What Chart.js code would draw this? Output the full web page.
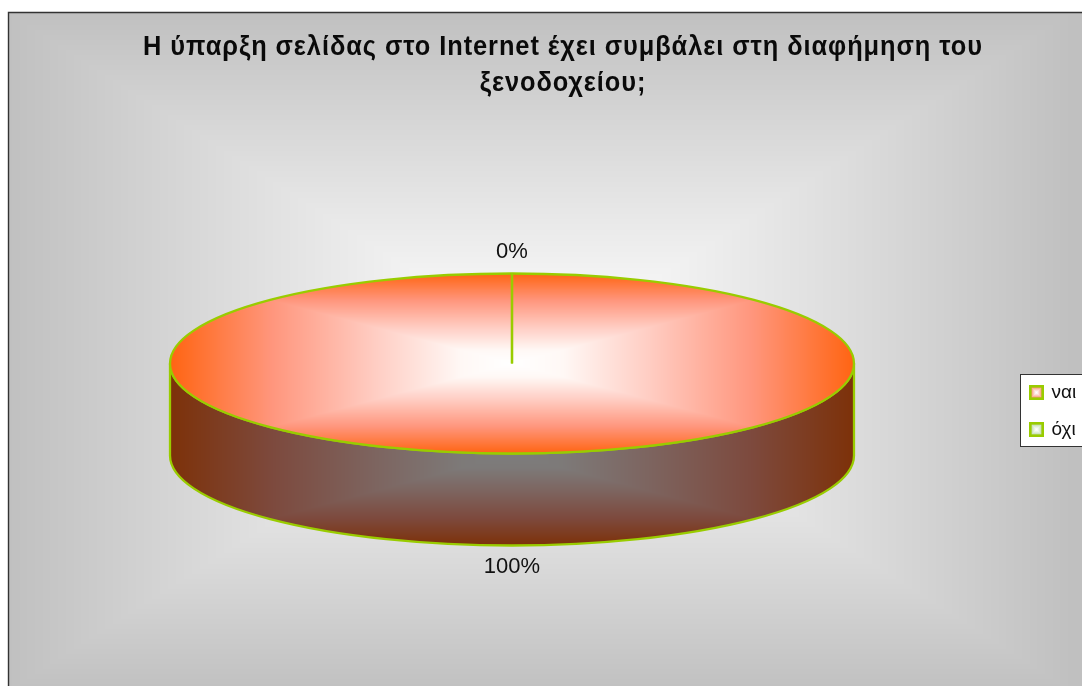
<!DOCTYPE html>
<html><head><meta charset="utf-8">
<style>html,body{margin:0;padding:0;background:#fff}canvas{display:block}</style>
<script src="https://cdn.jsdelivr.net/npm/chart.js@4"></script>
</head><body><canvas id="c" width="1082" height="686"></canvas>
<script>
const categories = ['ναι', 'όχι'];
const seriesValues = [100, 0];
const titleLines = ['Η ύπαρξη σελίδας στο Internet έχει συμβάλει στη διαφήμηση του', 'ξενοδοχείου;'];

const SANS = '"Liberation Sans", Arial, sans-serif';
const OUTLINE = '#99cc00';
const SQUASH = 90 / 342, DEPTH = 92;
const faceStops = [[0, [255, 255, 255]], [.15, [255, 248, 245]], [.4, [255, 205, 195]], [.7, [255, 150, 125]], [1, [255, 100, 18]]];
const wallStops = faceStops.map(([t, c]) => [t, c.map(v => v * .49)]);
const bgStops = [[0, [255, 255, 255]], [1, [192, 192, 192]]];

function colorAt(stops, t) {
  for (let i = 1; i < stops.length; i++) {
    if (t <= stops[i][0]) {
      const a = stops[i - 1], b = stops[i], m = (t - a[0]) / (b[0] - a[0]);
      return a[1].map((v, k) => v + (b[1][k] - v) * m);
    }
  }
  return stops[stops.length - 1][1];
}
function gradCanvas(w, h, cx, cy, hw, hh, stops, pow) {
  const c = document.createElement('canvas'); c.width = w; c.height = h;
  const g = c.getContext('2d'), im = g.createImageData(w, h), d = im.data;
  for (let y = 0; y < h; y++) for (let x = 0; x < w; x++) {
    const t = Math.min(1, Math.max(Math.abs(x + .5 - cx) / hw, Math.abs(y + .5 - cy) / hh));
    const col = colorAt(stops, Math.pow(t, pow)), i = (y * w + x) * 4;
    d[i] = col[0]; d[i + 1] = col[1]; d[i + 2] = col[2]; d[i + 3] = 255;
  }
  g.putImageData(im, 0, 0);
  return c;
}
function swatch(rgb) {
  const c = gradCanvas(15, 15, 7.5, 7.5, 5, 5, [[0, [255, 255, 255]], [1, rgb]], 1.3), g = c.getContext('2d');
  g.strokeStyle = OUTLINE; g.lineWidth = 2.6; g.strokeRect(1.3, 1.3, 12.4, 12.4);
  return c;
}
const swatches = [swatch([250, 150, 120]), swatch([190, 220, 170])];
const bgCanvas = gradCanvas(1082, 686, 540, 352, 532, 339, bgStops, 1.1);
let facePattern = null, wallPattern = null;

const scene = {
  id: 'scene',
  afterLayout(chart) {
    const a = chart.chartArea, R = chart.data.datasets[0].radius;
    const cx = (a.left + a.right) / 2, cy = (a.top + a.bottom) / 2;
    const ctx = chart.ctx;
    const W = 1082, H = 760;
    facePattern = ctx.createPattern(gradCanvas(W, H, cx, cy, R, R, faceStops, 1), 'no-repeat');
    const wallHalf = (R * SQUASH + DEPTH) / 2;
    wallPattern = ctx.createPattern(gradCanvas(W, H, cx, cy + wallHalf, R, wallHalf, wallStops, 1), 'no-repeat');
    const lg = chart.legend;
    lg.left = 1013; lg.right = 1100; lg.top = 365; lg.bottom = lg.top + lg.height;
    const tb = chart.titleBlock;
    tb.left += 51; tb.right += 51;
    if (!tb._spaced) {
      const d = tb.draw;
      tb.draw = function () {
        const c = this.ctx, mx = (this.left + this.right) / 2;
        c.save();
        c.translate(mx, 0); c.scale(.94, 1); c.translate(-mx, 0);
        c.letterSpacing = '1px';
        d.apply(this, arguments);
        c.restore();
      };
      tb._spaced = true;
    }
  },
  beforeDraw(chart) {
    const c = chart.ctx;
    c.save();
    c.fillStyle = '#fff'; c.fillRect(0, 0, 1082, 686);
    c.drawImage(bgCanvas, 9, 13, 1073, 673, 9, 13, 1073, 673);
    c.strokeStyle = '#333'; c.lineWidth = 1.4;
    c.beginPath(); c.moveTo(8.5, 686); c.lineTo(8.5, 12.5); c.lineTo(1082, 12.5); c.stroke();
    c.fillStyle = '#fff'; c.fillRect(1020.5, 374.5, 70, 72);
    c.lineWidth = 1; c.strokeRect(1020.5, 374.5, 70, 72);
    c.restore();
  },
  beforeDatasetsDraw(chart) {
    const arc = chart.getDatasetMeta(0).data[0], c = chart.ctx;
    const rx = arc.outerRadius, ry = rx * SQUASH, x = arc.x, y = arc.y;
    c.save();
    c.beginPath();
    c.ellipse(x, y, rx, ry, 0, 0, Math.PI);
    c.lineTo(x - rx, y + DEPTH);
    c.ellipse(x, y + DEPTH, rx, ry, 0, Math.PI, 0, true);
    c.closePath();
    c.fillStyle = wallPattern; c.fill();
    c.strokeStyle = OUTLINE; c.lineWidth = 2.3; c.stroke();
    c.restore();
    c.save();
    c.translate(x, y); c.scale(1, SQUASH); c.translate(-x, -y);
  },
  afterDatasetsDraw(chart) {
    const c = chart.ctx; c.restore();
    const meta = chart.getDatasetMeta(0), first = meta.data[0];
    const rx = first.outerRadius, ry = rx * SQUASH, x = first.x, y = first.y;
    const vals = chart.data.datasets[0].data, total = vals.reduce((s, v) => s + v, 0);
    c.save();
    c.strokeStyle = OUTLINE; c.lineWidth = 2.3;
    c.beginPath(); c.ellipse(x, y, rx, ry, 0, 0, Math.PI * 2); c.stroke();
    meta.data.forEach(el => {
      c.beginPath(); c.moveTo(x, y);
      c.lineTo(x + Math.cos(el.startAngle) * rx, y + Math.sin(el.startAngle) * ry); c.stroke();
    });
    c.fillStyle = '#111'; c.font = '22px ' + SANS; c.textAlign = 'center'; c.textBaseline = 'middle';
    meta.data.forEach((el, i) => {
      const mid = (el.startAngle + el.endAngle) / 2, s = Math.sin(mid);
      const ly = y + s * ry + (s > 0 ? DEPTH + 21 : -22);
      c.fillText(Math.round(vals[i] / total * 100) + '%', x + Math.cos(mid) * rx, ly);
    });
    c.restore();
  }
};

new Chart(document.getElementById('c'), {
  type: 'pie',
  data: {
    labels: categories,
    datasets: [{
      data: seriesValues,
      radius: 342,
      backgroundColor: ctx => ctx.dataIndex === 0 ? (facePattern || '#ff6312') : '#99cc00',
      borderWidth: 0
    }]
  },
  options: {
    responsive: false,
    animation: false,
    events: [],
    rotation: 0,
    layout: { padding: { left: 0, right: 58, top: 0, bottom: 67 } },
    plugins: {
      tooltip: { enabled: false },
      title: {
        display: true,
        text: titleLines,
        color: '#0a0a0a',
        font: { family: SANS, size: 27, weight: 'bold', lineHeight: 1.333 },
        padding: { top: 29.5, bottom: 6.5 }
      },
      legend: {
        display: true,
        position: 'chartArea',
        align: 'start',
        labels: {
          usePointStyle: true,
          pointStyleWidth: 11,
          padding: 18,
          color: '#111',
          font: { family: SANS, size: 19 },
          generateLabels: chart => chart.data.labels.map((t, i) => ({
            text: t, pointStyle: swatches[i], fillStyle: '#fff', strokeStyle: '#fff', lineWidth: 0, index: i, hidden: false, fontColor: '#111'
          }))
        }
      }
    }
  },
  plugins: [scene]
});
</script></body></html>
